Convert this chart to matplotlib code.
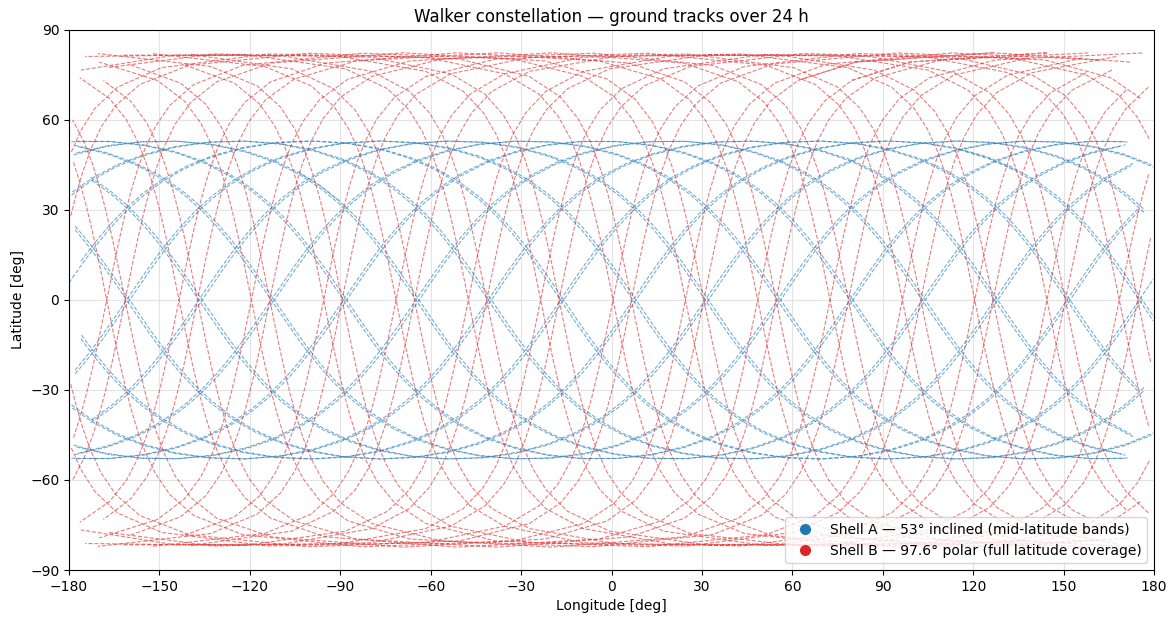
import numpy as np
import matplotlib
matplotlib.use('Agg')
import matplotlib.pyplot as plt
from matplotlib.lines import Line2D

# Orbital elements of the plotted satellites (circular orbits)
shell_names = ['Shell A — 53° inclined (mid-latitude bands)',
               'Shell B — 97.6° polar (full latitude coverage)']
shell_colors = ['#1f77b4', '#d62728']
shell_inc = [53.0, 97.6]            # deg
shell_period = [5744.0, 5744.0]     # s
raan_a = [0.0, 120.0]               # deg
phase_a = [106.0, 122.0]            # deg, argument of latitude at t=0
raan_b = [234.5, 216.6]
phase_b = [90.0, 90.0]

hours = 24
step_s = 120
earth_rate = 360.0 / 86164.0        # deg/s

t = np.arange(0, hours * 3600 + step_s, step_s)


def ground_track(inc, period, raan, u0):
    i = np.radians(inc)
    u = np.radians(u0 + 360.0 / period * t)
    lat = np.degrees(np.arcsin(np.sin(i) * np.sin(u)))
    lon = raan + np.degrees(np.arctan2(np.cos(i) * np.sin(u), np.cos(u))) - earth_rate * t
    lon = (lon + 180.0) % 360.0 - 180.0
    # break the line where it wraps round the map
    jump = np.abs(np.diff(lon)) > 180
    lon = np.insert(lon, np.where(jump)[0] + 1, np.nan)
    lat = np.insert(lat, np.where(jump)[0] + 1, np.nan)
    return lon, lat


fig, ax = plt.subplots(figsize=(11.76, 6.22), dpi=100)
fig.subplots_adjust(left=0.0587, right=0.9813, top=0.9518, bottom=0.0836)

shells = [(raan_a, phase_a), (raan_b, phase_b)]
for k, (raans, phases) in enumerate(shells):
    for raan, u0 in zip(raans, phases):
        lon, lat = ground_track(shell_inc[k], shell_period[k], raan, u0)
        ax.plot(lon, lat, '--', color=shell_colors[k], lw=0.8, alpha=0.6)

ax.set_xlim(-180, 180)
ax.set_ylim(-90, 90)
ax.set_xticks(np.arange(-180, 181, 30))
ax.set_yticks(np.arange(-90, 91, 30))
ax.grid(True, color='#dddddd', lw=0.8, alpha=0.8)
ax.set_axisbelow(True)

ax.set_title('Walker constellation — ground tracks over 24 h')
ax.set_xlabel('Longitude [deg]')
ax.set_ylabel('Latitude [deg]')

handles = [Line2D([], [], marker='o', ls='', color=c, markersize=7) for c in shell_colors]
ax.legend(handles, shell_names, loc='lower right')

fig.savefig('out.png', dpi=100)
